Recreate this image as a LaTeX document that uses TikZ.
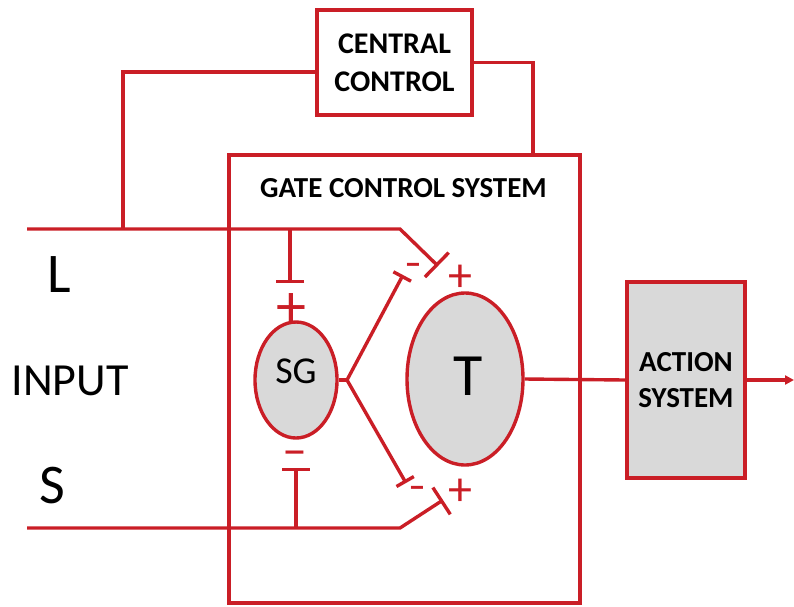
\documentclass[tikz,border=0pt]{standalone}
\usepackage{fontspec}
\setmainfont{Carlito}
\usetikzlibrary{shapes.geometric,arrows.meta}
\definecolor{wire}{RGB}{202,30,38}
\definecolor{cellgray}{RGB}{217,217,217}
\begin{document}
\begin{tikzpicture}[x=1pt,y=-1pt,
  wire/.style={draw=wire,line width=3.4pt},
  boxframe/.style={draw=wire,line width=3.4pt,rectangle,inner sep=0pt},
  cell/.style={ellipse,draw=wire,line width=3.4pt,fill=cellgray,inner sep=0pt},
  bigsign/.style={text=wire,font=\fontsize{60}{60}\selectfont,inner sep=0pt},
  smallsign/.style={text=wire,font=\fontsize{48}{48}\selectfont,inner sep=0pt},
  bigminus/.style={text=wire,font=\fontsize{50}{50}\selectfont,inner sep=0pt},
  minussign/.style={text=wire,font=\fontsize{34}{34}\selectfont\bfseries,inner sep=0pt},
  biglabel/.style={anchor=base,font=\fontsize{56}{56}\selectfont,inner sep=0pt}]
\useasboundingbox (0,0) rectangle (794,606);

% boxes
\node[boxframe,minimum width=155pt,minimum height=105pt,
      font=\fontsize{30}{38}\selectfont\bfseries,align=center] (cc) at (394.5,62.5) {CENTRAL\\CONTROL};
\node[boxframe,minimum width=351pt,minimum height=448pt] (gate) at (404.5,379) {};
\node[anchor=base,inner sep=0pt,font=\fontsize{29}{29}\selectfont\bfseries] (gatelabel) at (403.5,197) {GATE CONTROL SYSTEM};
\node[boxframe,fill=cellgray,minimum width=118pt,minimum height=196pt,
      font=\fontsize{29}{36}\selectfont\bfseries,align=center] (act) at (686,380) {ACTION\\SYSTEM};

% cells
\node[cell,minimum width=82pt,minimum height=116pt] (sg) at (296,380) {};
\node[anchor=base,inner sep=0pt,font=\fontsize{38}{38}\selectfont] (sgtext) at (296,383) {SG};
\node[cell,minimum width=116pt,minimum height=172pt] (t) at (465,379) {};
\node[anchor=base,inner sep=0pt,font=\fontsize{60}{60}\selectfont] (ttext) at (468,395) {T};

% input labels
\node[biglabel] (llabel) at (59,292) {L};
\node[anchor=base,inner sep=0pt,font=\fontsize{46}{46}\selectfont] (inlabel) at (70,395) {INPUT};
\node[biglabel] (slabel) at (52,503) {S};

% coordinates
\coordinate (Lin) at (27,229);
\coordinate (Lbend) at (400,229);
\coordinate (Lsyn) at (438,266);
\coordinate (Ljct) at (123,229);
\coordinate (SGtopj) at (290,229);
\coordinate (SGtopbar) at (290,283);
\coordinate (Sin) at (27,528);
\coordinate (Sbend) at (400,528);
\coordinate (Ssyn) at (443,500);
\coordinate (SGbotj) at (296,528);
\coordinate (SGbotbar) at (296,468);
\coordinate (fork) at (347,380);
\coordinate (inhUp) at (403,275);
\coordinate (inhDn) at (406,483);
\coordinate (ccg) at (533,155);
\coordinate (out) at (794,380);

% central control loops
\draw[wire] (Ljct) |- ([yshift=-9.5pt]cc.west);
\draw[wire] (cc.east) -| (ccg);

% L and S fibres
\draw[wire,-{Bar[width=34pt]}] (Lin) -- (Lbend) -- (Lsyn);
\draw[wire,-{Bar[width=32pt]}] (Sin) -- (Sbend) -- (Ssyn);
\draw[wire,-{Bar[width=28pt]}] (SGtopj) -- (SGtopbar);
\draw[wire,-{Bar[width=28pt]}] (SGbotj) -- (SGbotbar);

% SG inhibition
\draw[wire] (sg.east) -- (fork);
\draw[wire,-{Bar[width=20pt]}] (fork) -- (inhUp);
\draw[wire,-{Bar[width=20pt]}] (fork) -- (inhDn);

% output
\draw[wire] (t.east) -- (act.west);
\draw[wire,-{Triangle[length=9pt,width=9pt]}] (act.east) -- (out);

% signs
\node[bigsign] (p1) at (291,310) {+};
\node[bigminus] (m1) at (295,459) {–};
\node[minussign] (m2) at (413,269) {–};
\node[smallsign] (p2) at (460,278) {+};
\node[minussign] (m3) at (417,492) {–};
\node[smallsign] (p3) at (460,492) {+};
\end{tikzpicture}
\end{document}
